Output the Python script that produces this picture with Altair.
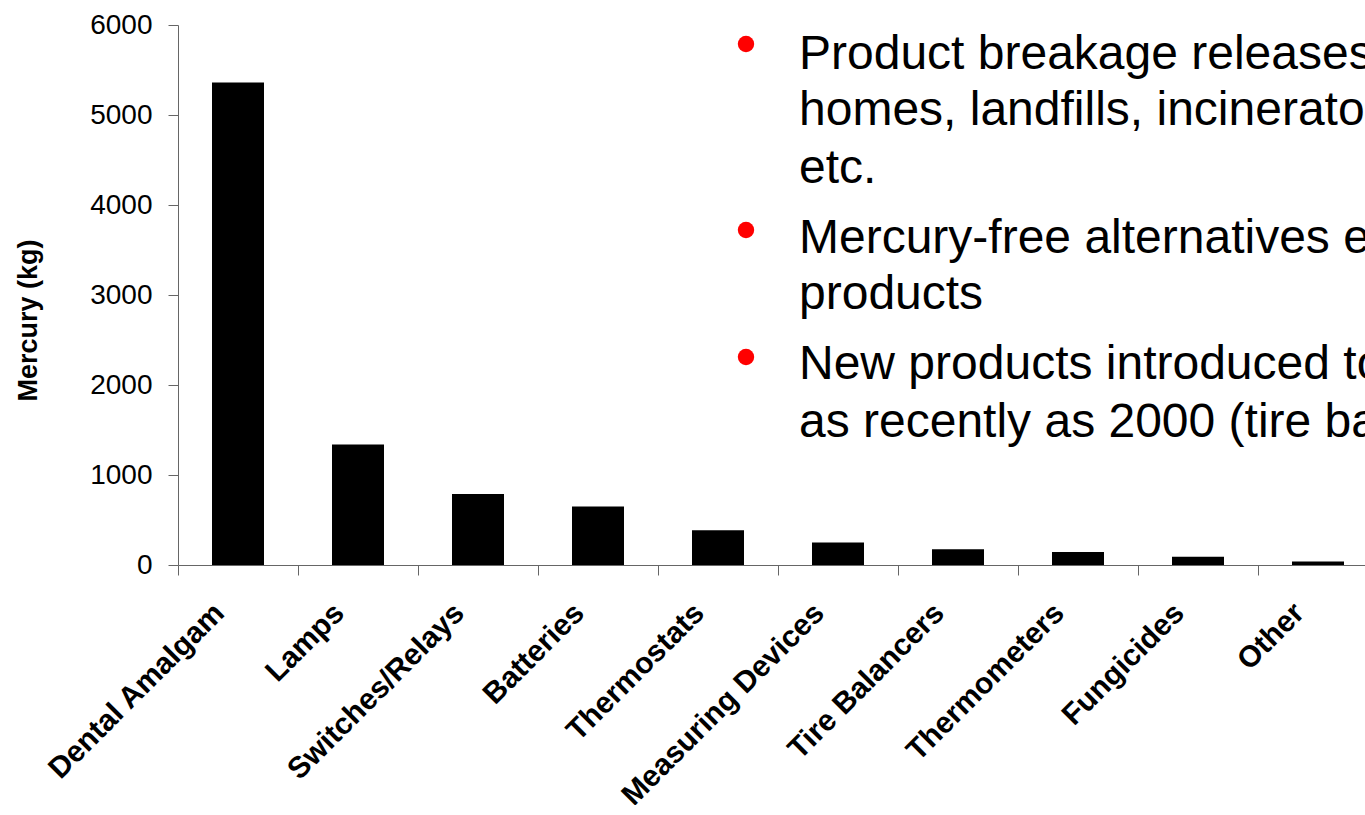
import altair as alt
import pandas as pd

# ---- data ----
categories = ["Dental Amalgam", "Lamps", "Switches/Relays", "Batteries", "Thermostats",
              "Measuring Devices", "Tire Balancers", "Thermometers", "Fungicides", "Other"]
mercury_kg = [5360, 1340, 790, 650, 385, 250, 175, 145, 93, 40]

y_ticks = [0, 1000, 2000, 3000, 4000, 5000, 6000]

bullet_lines = [
    "Product breakage releases mercury in",
    "homes, landfills, incinerators,",
    "etc.",
    "Mercury-free alternatives exist for most",
    "products",
    "New products introduced to market",
    "as recently as 2000 (tire balancers)",
]

df = pd.DataFrame({"category": categories, "mercury": mercury_kg})

FONT = "Liberation Sans"
W, H = 1187, 540

bars = alt.Chart(df).mark_bar(color="black", size=52).encode(
    x=alt.X("category:N", sort=categories,
            scale=alt.Scale(range=[0, 1200], paddingInner=0, paddingOuter=0),
            axis=alt.Axis(title=None, labelAngle=-45, labelAlign="right",
                          labelBaseline="middle", labelFont=FONT, labelFontSize=30,
                          labelFontWeight="bold", labelColor="black",
                          labelPadding=33, labelOffset=-19,
                          tickBand="extent", tickSize=10, tickColor="#666",
                          domainColor="#666", labelOverlap=False, labelLimit=0)),
    y=alt.Y("mercury:Q", scale=alt.Scale(domain=[0, 6000], nice=False),
            axis=alt.Axis(title="Mercury (kg)", values=y_ticks, format="d", grid=False,
                          labelFont=FONT, labelFontSize=28, labelColor="black",
                          labelPadding=16, tickSize=10, tickColor="#666",
                          domainColor="#666",
                          titleFont=FONT, titleFontSize=27, titleFontWeight="bold",
                          titleColor="black", titleAngle=-90, titleBaseline="middle",
                          titleAlign="center", titleX=-150, titleY=295)),
)

# annotation text (bullet list to the right of the chart)
line_y = [44, 100, 158, 228, 284, 354, 412]
bullet_y = [19, 205, 332]
layers = [bars]
one = alt.Data(values=[{"a": 1}])
for txt, yy in zip(bullet_lines, line_y):
    layers.append(
        alt.Chart(one).mark_text(font=FONT, fontSize=48, align="left",
                                 baseline="alphabetic", color="black")
        .encode(x=alt.value(621), y=alt.value(yy), text=alt.value(txt))
    )
for yy in bullet_y:
    layers.append(
        alt.Chart(one).mark_circle(color="#ff0000", opacity=1, size=270)
        .encode(x=alt.value(568), y=alt.value(yy))
    )

chart = alt.layer(*layers).properties(
    width=W, height=H,
    background="white",
    autosize=alt.AutoSizeParams(type="none"),
    padding={"left": 178, "top": 25, "right": 0, "bottom": 240},
).configure_view(stroke=None)

chart.save("out.html", embed_options={"renderer": "svg", "actions": False})
